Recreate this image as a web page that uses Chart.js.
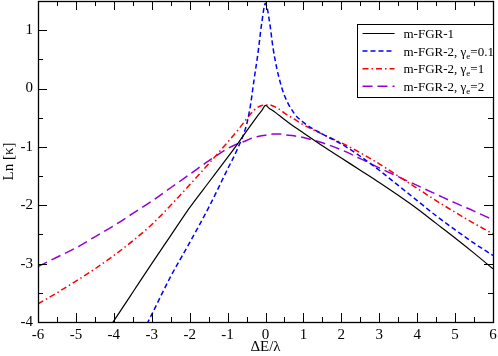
<!DOCTYPE html>
<html>
<head>
<meta charset="utf-8">
<script src="https://cdn.jsdelivr.net/npm/chart.js@4"></script>
<style>
  body { margin: 0; background: #fff; }
</style>
</head>
<body>
<canvas id="chart" width="498" height="356"></canvas>
<script>
const xs = [-6, -5.5, -5, -4.5, -4, -3.5, -3, -2.5, -2, -1.5, -1, -0.75, -0.5, -0.4, -0.3, -0.2, -0.1,
            0, 0.1, 0.2, 0.3, 0.4, 0.5, 0.75, 1, 1.5, 2, 2.5, 3, 3.5, 4, 4.5, 5, 5.5, 6];

const fgr1 = [-5.92, -5.44, -4.96, -4.47, -3.98, -3.49, -3.0, -2.52, -2.04, -1.61, -1.18, -0.96, -0.73, -0.64, -0.55, -0.46, -0.38,
              -0.29, -0.34, -0.38, -0.43, -0.48, -0.53, -0.65, -0.76, -0.98, -1.19, -1.40, -1.61, -1.83, -2.06, -2.31, -2.56, -2.82, -3.09];

const fgr2g01 = [-7.7, -7.05, -6.4, -5.78, -5.15, -4.52, -3.87, -3.22, -2.64, -2.04, -1.38, -1.05, -0.62, -0.3, 0.16, 0.6, 1.12,
                 1.46, 1.17, 0.69, 0.34, 0.08, -0.12, -0.42, -0.58, -0.78, -0.95, -1.16, -1.40, -1.66, -1.92, -2.18, -2.42, -2.65, -2.86];

const fgr2g1 = [-3.69, -3.50, -3.30, -3.09, -2.86, -2.61, -2.33, -2.00, -1.65, -1.29, -0.92, -0.73, -0.52, -0.44, -0.37, -0.32, -0.29,
                -0.28, -0.28, -0.30, -0.33, -0.37, -0.42, -0.52, -0.62, -0.78, -0.93, -1.10, -1.29, -1.50, -1.71, -1.92, -2.12, -2.31, -2.49];

const fgr2g2 = [-3.05, -2.89, -2.73, -2.54, -2.35, -2.14, -1.93, -1.70, -1.47, -1.24, -1.03, -0.95, -0.89, -0.86, -0.84, -0.82, -0.81,
                -0.80, -0.79, -0.78, -0.78, -0.78, -0.79, -0.81, -0.84, -0.93, -1.05, -1.20, -1.36, -1.51, -1.66, -1.81, -1.96, -2.10, -2.25];

const xTicks = [-6, -5, -4, -3, -2, -1, 0, 1, 2, 3, 4, 5, 6];
const yTicks = [-4, -3, -2, -1, 0, 1];

// legend labels: [before subscript, subscript, after]
const legendText = [
  ["m-FGR-1", "", ""],
  ["m-FGR-2, \u03b3", "e", "=0.1"],
  ["m-FGR-2, \u03b3", "e", "=1"],
  ["m-FGR-2, \u03b3", "e", "=2"]
];

const serif = "'Liberation Serif', 'Times New Roman', serif";
Chart.defaults.font.family = serif;
Chart.defaults.color = "#000";

function pts(ys) {
  return xs.map((x, i) => ({ x: x, y: ys[i] }));
}

const series = [
  { data: fgr1, color: "#000000", dash: [], width: 1.2 },
  { data: fgr2g01, color: "#0000ff", dash: [5, 3], width: 1.5 },
  { data: fgr2g1, color: "#ff0000", dash: [6, 3, 1.5, 3], width: 1.5 },
  { data: fgr2g2, color: "rgb(148,0,211)", dash: [10, 5], width: 1.5 }
];

// inside ticks on all four sides, frame and the legend box
const framePlugin = {
  id: "frame",
  afterDraw(chart) {
    const ctx = chart.ctx;
    const a = chart.chartArea;
    const sx = chart.scales.x, sy = chart.scales.y;
    ctx.save();
    ctx.strokeStyle = "#000";
    ctx.lineWidth = 1;
    ctx.setLineDash([]);
    ctx.beginPath();
    for (let v = -6; v <= 6.001; v += 0.5) {
      const len = Number.isInteger(v) ? 9 : 5;
      const px = Math.round(sx.getPixelForValue(v)) + 0.5;
      ctx.moveTo(px, a.bottom); ctx.lineTo(px, a.bottom - len);
      ctx.moveTo(px, a.top); ctx.lineTo(px, a.top + len);
    }
    for (let v = -4; v <= 1.501; v += 0.5) {
      const len = Number.isInteger(v) ? 9 : 5;
      const py = Math.round(sy.getPixelForValue(v)) + 0.5;
      ctx.moveTo(a.left, py); ctx.lineTo(a.left + len, py);
      ctx.moveTo(a.right, py); ctx.lineTo(a.right - len, py);
    }
    ctx.stroke();
    ctx.lineWidth = 1.3;
    ctx.strokeRect(Math.round(a.left) + 0.5, Math.round(a.top) + 0.5, Math.round(a.right - a.left), Math.round(a.bottom - a.top));

    // legend
    const bx = Math.round(a.right) - 136 + 0.5, by = Math.round(a.top) + 23 + 0.5;
    ctx.fillStyle = "#fff";
    ctx.fillRect(bx, by, 136, 73);
    ctx.lineWidth = 1;
    ctx.strokeRect(bx, by, 136, 73);
    series.forEach((s, i) => {
      const y = by + 9 + i * 17.6;
      ctx.strokeStyle = s.color;
      ctx.lineWidth = s.width;
      ctx.setLineDash(s.dash);
      ctx.beginPath();
      ctx.moveTo(bx + 5, y);
      ctx.lineTo(bx + 37, y);
      ctx.stroke();
      ctx.setLineDash([]);
      const t = legendText[i];
      ctx.fillStyle = "#000";
      ctx.textBaseline = "alphabetic";
      ctx.textAlign = "left";
      ctx.font = "13px " + serif;
      let tx = bx + 46;
      ctx.fillText(t[0], tx, y + 4.5);
      tx += ctx.measureText(t[0]).width;
      if (t[1]) {
        ctx.font = "9px " + serif;
        ctx.fillText(t[1], tx, y + 7.5);
        tx += ctx.measureText(t[1]).width;
        ctx.font = "13px " + serif;
        ctx.fillText(t[2], tx, y + 4.5);
      }
    });
    ctx.restore();
  }
};

new Chart(document.getElementById("chart"), {
  type: "line",
  data: {
    datasets: series.map((s, i) => ({
      label: legendText[i].join(""),
      data: pts(s.data),
      borderColor: s.color,
      borderWidth: s.width,
      borderDash: s.dash,
      pointRadius: 0,
      cubicInterpolationMode: "monotone",
      fill: false
    }))
  },
  options: {
    responsive: false,
    animation: false,
    layout: { padding: { top: 1, right: 5, left: 0, bottom: 0 } },
    scales: {
      x: {
        type: "linear",
        min: -6,
        max: 6,
        grid: { display: false, drawTicks: false },
        border: { display: false },
        afterBuildTicks: s => { s.ticks = xTicks.map(v => ({ value: v })); },
        afterFit: s => { s.height = 34; s.paddingLeft = 0; s.paddingRight = 0; },
        ticks: { font: { size: 15 }, padding: 4, maxRotation: 0 },
        title: { display: true, text: "\u0394E/\u03bb", font: { size: 15 }, padding: 0 }
      },
      y: {
        type: "linear",
        min: -4,
        max: 1.5,
        grid: { display: false, drawTicks: false },
        border: { display: false },
        afterBuildTicks: s => { s.ticks = yTicks.map(v => ({ value: v })); },
        afterFit: s => { s.width = 38; s.paddingTop = 0; s.paddingBottom = 0; },
        ticks: { font: { size: 15 }, padding: 5 },
        title: { display: true, text: "Ln [\u03ba]", font: { size: 15 }, padding: 0 }
      }
    },
    plugins: {
      legend: { display: false },
      tooltip: { enabled: false }
    }
  },
  plugins: [framePlugin]
});
</script>
</body>
</html>
